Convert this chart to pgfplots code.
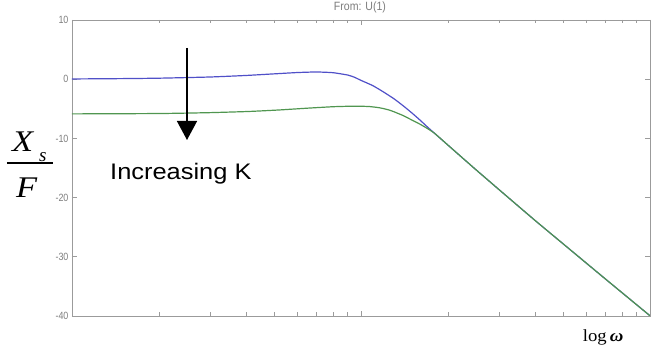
\documentclass[border=0pt]{standalone}
\usepackage{fontspec}
\setmainfont{Liberation Serif}
\newfontfamily\arial{Liberation Sans}
\usepackage{graphicx}
\usepackage{pgfplots}
\pgfplotsset{compat=1.18}
\usetikzlibrary{arrows.meta}
\definecolor{axgray}{RGB}{155,155,155}
\definecolor{lblgray}{RGB}{125,125,125}
\definecolor{bluel}{RGB}{80,80,200}
\definecolor{greenl}{RGB}{80,150,80}
\pgfplotstableread{
w db
0.1 0.04
0.15 0.10
0.2 0.17
0.3 0.37
0.4 0.63
0.5 0.90
0.6 1.12
0.7 1.22
0.8 1.10
0.9 0.70
0.95 0.32
1.0 -0.2
1.05 -0.65
1.1 -1.1
1.15 -1.65
1.2 -2.2
1.3 -3.3
1.4 -4.5
1.5 -5.7
1.6 -6.9
1.7 -8.1
1.8 -9.17
2 -11.14
2.2 -12.92
2.5 -15.3
3 -18.63
4 -23.85
5 -27.79
7 -33.72
10 -39.96
}\bluedata
\pgfplotstableread{
w db
0.1 -5.86
0.2 -5.8
0.3 -5.65
0.41 -5.45
0.52 -5.2
0.65 -4.9
0.8 -4.65
0.93 -4.56
1.0 -4.57
1.07 -4.62
1.15 -4.8
1.2 -4.98
1.25 -5.2
1.3 -5.5
1.4 -6.15
1.5 -6.9
1.6 -7.6
1.7 -8.35
1.8 -9.17
2 -11.14
2.2 -12.92
2.5 -15.3
3 -18.63
4 -23.85
5 -27.79
7 -33.72
10 -39.96
}\greendata
\begin{document}
\begin{tikzpicture}
\begin{axis}[name=ax, scale only axis, width=578pt, height=296pt,
  xmode=log, xmin=0.1, xmax=10, ymin=-40, ymax=10,
  xtick={0.1,1,10}, xticklabels={},
  minor xtick={0.2,0.3,0.4,0.5,0.6,0.7,0.8,0.9,2,3,4,5,6,7,8,9},
  ytick={-40,-30,-20,-10,0,10},
  yticklabels={\scalebox{0.85}[1]{-40},\scalebox{0.85}[1]{-30},\scalebox{0.85}[1]{-20},\scalebox{0.85}[1]{-10},\scalebox{0.85}[1]{0},\scalebox{0.85}[1]{10}},
  yticklabel style={font=\arial\fontsize{10.5}{11}\selectfont, text=lblgray},
  axis line style={axgray, line width=0.8pt},
  every tick/.style={axgray, line width=0.6pt},
  major tick length=5pt, minor tick length=3.5pt, tick align=inside,
  ]
\addplot[bluel, line width=1.2pt, smooth, tension=0.3] table[x=w, y=db] {\bluedata};
\addplot[greenl, line width=1.2pt, smooth, tension=0.3] table[x=w, y=db] {\greendata};
\end{axis}
% annotations
\node[anchor=base, text=lblgray, font=\arial\fontsize{12}{12}\selectfont] at ([shift={(288pt,305pt)}]ax.south west) {\scalebox{0.88}[1]{From: U(1)}};
\draw[black, line width=1.5pt, -{Triangle[width=20pt,length=19pt]}] ([shift={(115pt,268pt)}]ax.south west) -- ([shift={(115pt,176pt)}]ax.south west);
\node[anchor=base west, inner sep=0pt, font=\arial\fontsize{22.5}{24}\selectfont] at ([shift={(38pt,136pt)}]ax.south west) {\scalebox{1.13}[1]{Increasing K}};
\node[anchor=base west, inner sep=0pt, font=\fontsize{17}{18}\selectfont] at ([shift={(510.7pt,-25.7pt)}]ax.south west) {\scalebox{1.1}[1]{log\,\textbf{\textit{ω}}}};
% fraction X_s / F
\node[anchor=base west, inner sep=0pt, font=\fontsize{30}{30}\selectfont\itshape] at ([shift={(-60pt,164.3pt)}]ax.south west) {\scalebox{1.15}[1]{X}};
\node[anchor=base west, inner sep=0pt, font=\fontsize{19}{19}\selectfont\itshape] at ([shift={(-33pt,154.3pt)}]ax.south west) {s};
\draw[black, line width=1.2pt] ([shift={(-65pt,153pt)}]ax.south west) -- ([shift={(-19pt,153pt)}]ax.south west);
\node[anchor=base west, inner sep=0pt, font=\fontsize{30}{30}\selectfont\itshape] at ([shift={(-56pt,118.7pt)}]ax.south west) {\scalebox{1.15}[1]{F}};
\pgfresetboundingbox
\path[use as bounding box] ([shift={(-72pt,-31pt)}]ax.south west) rectangle ([shift={(1pt,20pt)}]ax.north east);
\end{tikzpicture}
\end{document}
